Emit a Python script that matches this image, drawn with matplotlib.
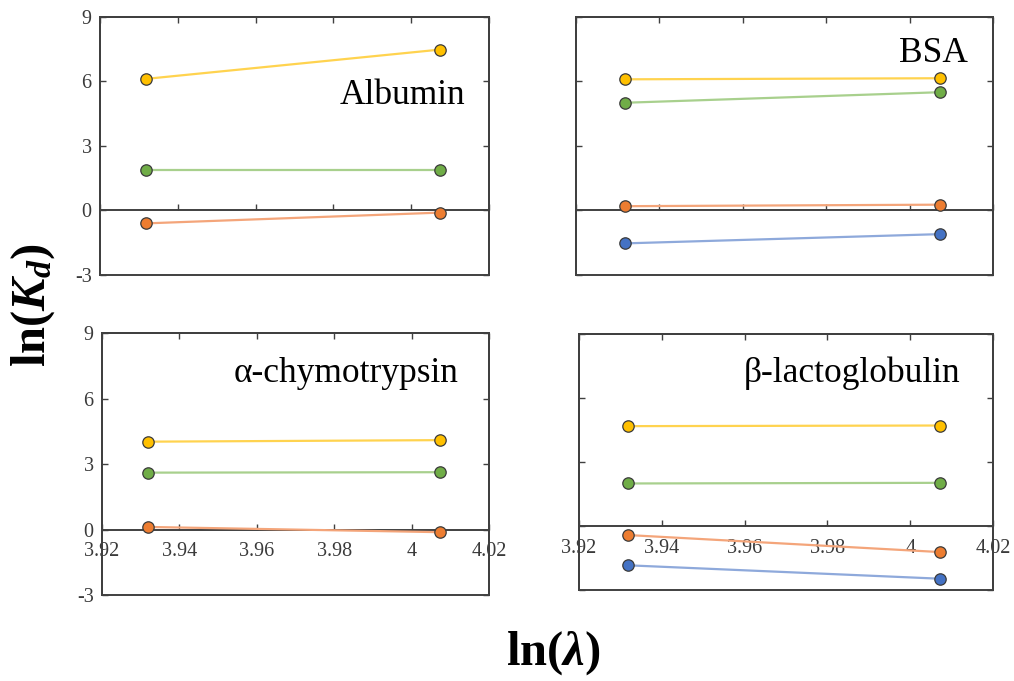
import matplotlib
matplotlib.use("Agg")
import matplotlib.pyplot as plt

plt.rcParams["font.family"] = ["Liberation Serif", "DejaVu Serif"]
plt.rcParams["mathtext.fontset"] = "custom"
plt.rcParams["mathtext.rm"] = "Liberation Serif:bold"
plt.rcParams["mathtext.bf"] = "Liberation Serif:bold"
plt.rcParams["mathtext.it"] = "Liberation Serif:bold:italic"

# ln(lambda) for the two lambda values
x_vals = [3.9318, 4.0073]

panel_names = ["Albumin", "BSA", "α-chymotrypsin", "β-lactoglobulin"]

# ln(Kd) per panel, per series (None = series not present)
yellow = [[6.12, 7.48], [6.10, 6.15], [4.03, 4.10], [4.69, 4.72]]
green = [[1.90, 1.90], [5.01, 5.50], [2.61, 2.63], [2.00, 2.03]]
orange = [[-0.60, -0.10], [0.20, 0.27], [0.12, -0.12], [-0.42, -1.22]]
blue = [None, [-1.53, -1.10], None, [-1.84, -2.47]]

x_ticks = [3.92, 3.94, 3.96, 3.98, 4.00, 4.02]
x_tick_labels = ["3.92", "3.94", "3.96", "3.98", "4", "4.02"]
y_ticks = [-3, 0, 3, 6, 9]

series_styles = [
    (yellow, "#FFC000", "#FFD34F"),
    (green, "#70AD47", "#A8D08D"),
    (orange, "#ED7D31", "#F4A57A"),
    (blue, "#4472C4", "#8EA9DB"),
]

# [left, bottom, width, height] in figure fraction
positions = [
    [0.0986, 0.5962, 0.3836, 0.3789],
    [0.5680, 0.5962, 0.4112, 0.3789],
    [0.1006, 0.1263, 0.3817, 0.3843],
    [0.5710, 0.1336, 0.4083, 0.3755],
]
label_pos = [(0.938, 0.663), (0.940, 0.827), (0.922, 0.815), (0.922, 0.815)]

frame_color = "#404040"
tick_color = "#3a3a3a"

fig = plt.figure(figsize=(10.14, 6.81), dpi=100)

for i, pos in enumerate(positions):
    ax = fig.add_axes(pos)
    ax.set_xlim(3.92, 4.02)
    ax.set_ylim(-3, 9)

    for data, face, line in series_styles:
        ys = data[i]
        if ys is None:
            continue
        ax.plot(x_vals, ys, color=line, lw=1.6, zorder=3)
        ax.plot(x_vals, ys, ls="none", marker="o", ms=8.2, mfc=face,
                mec="#3a3a3a", mew=0.9, zorder=4)

    # box frame from the axes patch, x axis crossing at zero
    ax.patch.set_edgecolor(frame_color)
    ax.patch.set_linewidth(1.4)
    ax.spines["bottom"].set_position(("data", 0))
    for side in ["bottom", "top", "left", "right"]:
        ax.spines[side].set_color(frame_color)
        ax.spines[side].set_linewidth(1.4)

    ax.set_xticks(x_ticks)
    ax.set_yticks(y_ticks)
    ax.tick_params(axis="both", direction="in", color=frame_color, width=1.0,
                   length=4, top=True, right=True, labelsize=14.5,
                   labelcolor=tick_color)
    ax.tick_params(axis="x", pad=9)
    ax.tick_params(axis="y", pad=6)

    if i >= 2:
        ax.set_xticklabels(x_tick_labels)
    else:
        ax.set_xticklabels([])
    if i % 2 == 0:
        ax.set_yticklabels([str(t) for t in y_ticks])
    else:
        ax.set_yticklabels([])

    lx, ly = label_pos[i]
    ax.text(lx, ly, panel_names[i], transform=ax.transAxes, ha="right",
            va="baseline", fontsize=25.5, color="black")

fig.text(0.033, 1 - 305 / 681, r"$\mathrm{ln(}K_{d}\mathrm{)}$", rotation=90,
         ha="center", va="center", fontsize=35)
fig.text(553 / 1014, 1 - 665 / 681, r"$\mathrm{ln(}\lambda\mathrm{)}$",
         ha="center", va="baseline", fontsize=35)

fig.savefig("out.png", dpi=100)
